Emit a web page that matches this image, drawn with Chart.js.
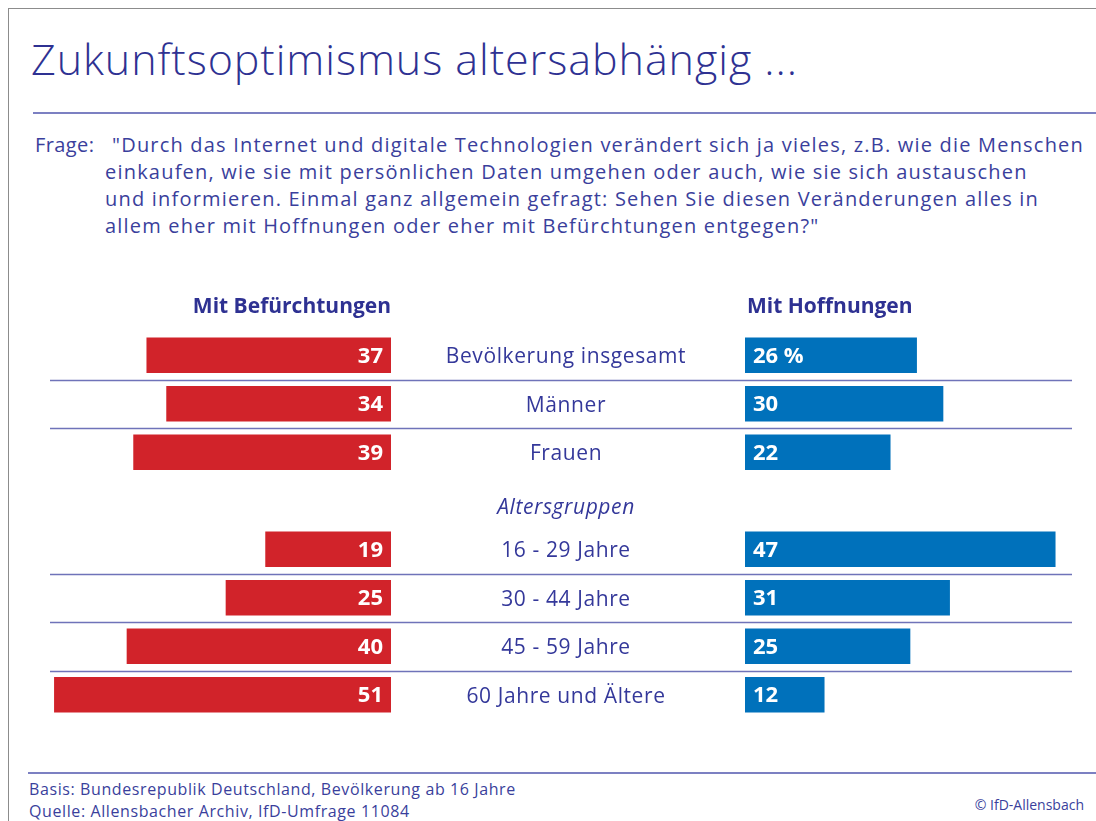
<!DOCTYPE html>
<html lang="de">
<head>
<meta charset="utf-8">
<title>Zukunftsoptimismus altersabhängig</title>
<script src="https://cdn.jsdelivr.net/npm/chart.js@4"></script>
<style>
  html, body { margin: 0; padding: 0; background: #fff; }
  body { width: 1096px; height: 821px; position: relative; overflow: hidden; font-family: "Open Sans", sans-serif; color: #2e3192; }
  .frame { position: absolute; left: 8px; top: 8px; right: 0; bottom: 0; border-top: 1px solid #8c8c8c; border-left: 1px solid #8c8c8c; }
  .title { position: absolute; left: 31px; top: 38px; font-size: 43px; line-height: 42px; font-weight: 300; letter-spacing: 0.95px; white-space: nowrap; }
  .rule { position: absolute; height: 0; border-top: 2px solid #7c80c2; }
  .question { position: absolute; left: 35px; top: 131px; font-size: 20px; line-height: 27px; color: #3a3f9c; }
  .question .label { position: absolute; left: 0; top: 0; letter-spacing: 0.4px; }
  .question .text { position: absolute; left: 70px; top: 0; white-space: nowrap; letter-spacing: 1.2px; }
  .question .first { padding-left: 7px; }
  .footer { position: absolute; left: 29px; top: 778px; font-size: 16px; line-height: 22px; letter-spacing: 0.6px; color: #3a3f9c; white-space: nowrap; }
  .copy { position: absolute; right: 12px; top: 795px; font-size: 14px; color: #3a3f9c; }
  #chartBox { position: absolute; left: 50px; top: 290px; width: 1022px; height: 430px; }
</style>
</head>
<body>
<div class="frame"></div>
<div class="title">Zukunftsoptimismus altersabhängig ...</div>
<div class="rule" style="left:33px; right:0; top:112px;"></div>
<div class="question">
  <div class="label">Frage:</div>
  <div class="text"><span class="first">"Durch das Internet und digitale Technologien verändert sich ja vieles, z.B. wie die Menschen</span><br>einkaufen, wie sie mit persönlichen Daten umgehen oder auch, wie sie sich austauschen<br>und informieren. Einmal ganz allgemein gefragt: Sehen Sie diesen Veränderungen alles in<br>allem eher mit Hoffnungen oder eher mit Befürchtungen entgegen?"</div>
</div>
<div id="chartBox"><canvas id="chart" width="1022" height="430"></canvas></div>
<div class="rule" style="left:28px; right:0; top:772px;"></div>
<div class="footer">Basis: Bundesrepublik Deutschland, Bevölkerung ab 16 Jahre<br>Quelle: Allensbacher Archiv, IfD-Umfrage 11084</div>
<div class="copy">© IfD-Allensbach</div>

<script>
// rows of the chart (index 3 is only a group heading, no bars)
const categories = ['Bevölkerung insgesamt', 'Männer', 'Frauen', 'Altersgruppen',
    '16 - 29 Jahre', '30 - 44 Jahre', '45 - 59 Jahre', '60 Jahre und Ältere'];
const befuerchtungen = [37, 34, 39, null, 19, 25, 40, 51];
const hoffnungen = [26, 30, 22, null, 47, 31, 25, 12];
const seriesNames = ['Mit Befürchtungen', 'Mit Hoffnungen'];
const headingRow = 3;
const separatorsAfter = [0, 1, 4, 5, 6];

const RED = '#d1232a';
const BLUE = '#0071bb';
const NAVY = '#2e3192';
const PX_PER_POINT = 6.6;
const LEFT_W = 341, MID_W = 354, RIGHT_W = 327;

const overlay = {
    id: 'overlay',
    beforeDatasetsDraw(chart) {
        const { ctx, chartArea, scales: { y } } = chart;
        ctx.save();
        ctx.strokeStyle = '#6f73b9';
        ctx.lineWidth = 1.5;
        separatorsAfter.forEach(i => {
            const yy = Math.round((y.getPixelForValue(i) + y.getPixelForValue(i + 1)) / 2) + 0.5;
            ctx.beginPath();
            ctx.moveTo(chartArea.left, yy);
            ctx.lineTo(chartArea.right, yy);
            ctx.stroke();
        });
        ctx.restore();
    },
    afterDatasetsDraw(chart) {
        const { ctx, chartArea, scales: { y, xL, xM, xR } } = chart;
        ctx.save();
        ctx.textBaseline = 'middle';

        // column headers
        ctx.font = 'bold 21px "Open Sans"';
        ctx.fillStyle = NAVY;
        ctx.textAlign = 'right';
        ctx.fillText(seriesNames[0], xL.right, chartArea.top - 24);
        ctx.textAlign = 'left';
        ctx.fillText(seriesNames[1], xR.left + 2, chartArea.top - 24);

        // category labels in the middle column
        const cx = (xM.left + xM.right) / 2 - 2;
        ctx.textAlign = 'center';
        ctx.fillStyle = '#34389a';
        ctx.letterSpacing = '0.6px';
        categories.forEach((c, i) => {
            const yy = y.getPixelForValue(i);
            if (i === headingRow) {
                ctx.font = 'italic 21px "Open Sans"';
                ctx.fillText(c, cx, yy + 7);
            } else {
                ctx.font = '21px "Open Sans"';
                ctx.fillText(c, cx, yy + 2);
            }
        });
        ctx.letterSpacing = '0px';

        // values inside the bars
        ctx.font = 'bold 22px "Open Sans"';
        ctx.fillStyle = '#fff';
        chart.getDatasetMeta(0).data.forEach((bar, i) => {
            if (befuerchtungen[i] == null) return;
            ctx.textAlign = 'right';
            ctx.fillText(String(befuerchtungen[i]), bar.base - 8, bar.y + 1);
        });
        chart.getDatasetMeta(1).data.forEach((bar, i) => {
            if (hoffnungen[i] == null) return;
            ctx.textAlign = 'left';
            ctx.fillText(i === 0 ? hoffnungen[i] + ' %' : String(hoffnungen[i]), bar.base + 8, bar.y + 1);
        });
        ctx.restore();
    }
};

new Chart(document.getElementById('chart'), {
    type: 'bar',
    data: {
        labels: categories,
        datasets: [
            { label: seriesNames[0], data: befuerchtungen, xAxisID: 'xL', backgroundColor: RED, barThickness: 35, grouped: false },
            { label: seriesNames[1], data: hoffnungen, xAxisID: 'xR', backgroundColor: BLUE, barThickness: 35, grouped: false }
        ]
    },
    options: {
        indexAxis: 'y',
        responsive: false,
        animation: false,
        layout: { padding: { top: 41, bottom: 1, left: 0, right: 0 } },
        plugins: { legend: { display: false }, tooltip: { enabled: false } },
        scales: {
            y: { type: 'category', display: false },
            xL: { type: 'linear', position: 'bottom', stack: 'cols', stackWeight: LEFT_W, reverse: true,
                  min: 0, max: LEFT_W / PX_PER_POINT, display: false },
            xM: { type: 'linear', position: 'bottom', stack: 'cols', stackWeight: MID_W, min: 0, max: 1, display: false },
            xR: { type: 'linear', position: 'bottom', stack: 'cols', stackWeight: RIGHT_W,
                  min: 0, max: RIGHT_W / PX_PER_POINT, display: false }
        }
    },
    plugins: [overlay]
});
</script>
</body>
</html>
